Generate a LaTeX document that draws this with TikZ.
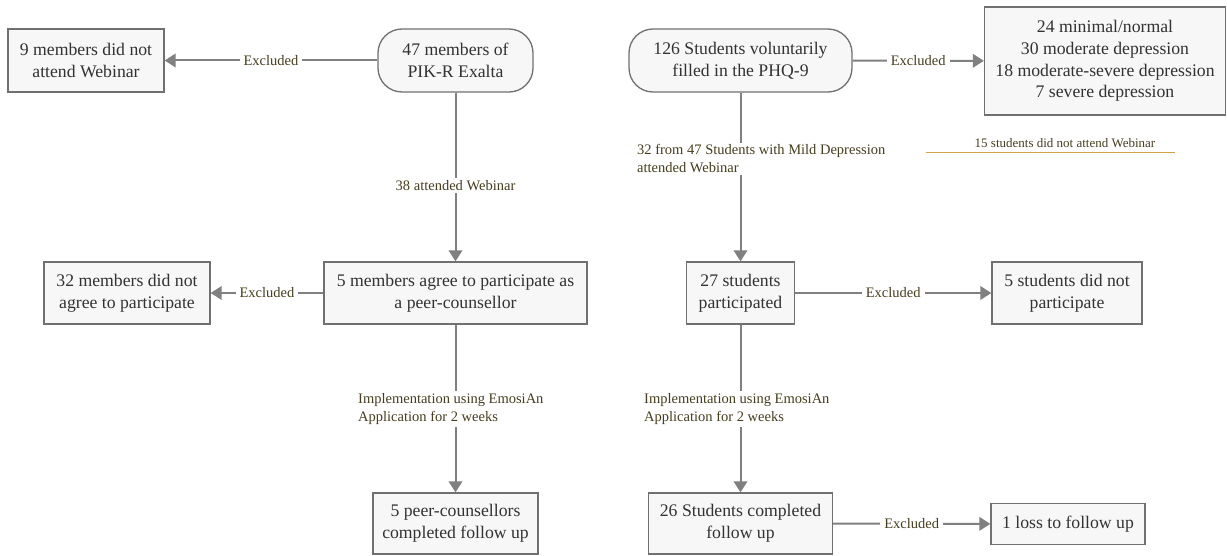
\documentclass[tikz,border=0pt]{standalone}
\usepackage{fontspec}
\setmainfont{Liberation Serif}
\newfontfamily\tnr{Liberation Serif}
\usetikzlibrary{arrows.meta}
\definecolor{boxfill}{RGB}{247,247,247}
\definecolor{boxline}{RGB}{112,112,112}
\definecolor{conn}{RGB}{128,128,128}
\definecolor{boxtext}{RGB}{50,50,50}
\definecolor{lbltext}{RGB}{70,62,30}
\definecolor{gold}{RGB}{205,165,70}
\tikzset{
  box/.style={draw=boxline, line width=1.3pt, fill=boxfill, text=boxtext,
    align=center, inner sep=0pt, font=\tnr\fontsize{17.7}{21.7}\selectfont},
  rbox/.style={box, rounded corners=24pt},
  arr/.style={draw=conn, line width=2pt, -{Triangle[length=11pt,width=13.5pt]}},
  lbl/.style={fill=white, text=lbltext, inner xsep=4pt, inner ysep=2pt,
    font=\tnr\fontsize{14.5}{18}\selectfont},
  lblleft/.style={lbl, align=left},
  note/.style={text=lbltext, inner sep=1pt, font=\tnr\fontsize{13}{16}\selectfont}
}
\begin{document}
\begin{tikzpicture}[x=1pt,y=-1pt]
\useasboundingbox (0,0) rectangle (1227,556);
% left column
\node[box, minimum width=156pt, minimum height=63pt] (A) at (86,60.5) {9 members did not\\attend Webinar};
\node[rbox, minimum width=155pt, minimum height=63pt] (B) at (455.5,60.5) {47 members of\\PIK-R Exalta};
\node[box, minimum width=166pt, minimum height=62pt] (E) at (127,293) {32 members did not\\agree to participate};
\node[box, minimum width=263pt, minimum height=62pt] (F) at (455.5,293) {5 members agree to participate as\\a peer-counsellor};
\node[box, minimum width=165pt, minimum height=61pt] (I) at (455.5,523.5) {5 peer-counsellors\\completed follow up};
% right column
\node[rbox, minimum width=223pt, minimum height=63pt] (C) at (740.5,60.5) {126 Students voluntarily\\filled in the PHQ-9};
\node[box, minimum width=241pt, minimum height=108pt] (D) at (1105,61) {24 minimal/normal\\30 moderate depression\\18 moderate-severe depression\\7 severe depression};
\node[box, minimum width=108pt, minimum height=62pt] (G) at (740.5,293) {27 students\\participated};
\node[box, minimum width=150pt, minimum height=62pt] (H) at (1067,293) {5 students did not\\participate};
\node[box, minimum width=184pt, minimum height=61pt] (J) at (740.5,523.5) {26 Students completed\\follow up};
\node[box, minimum width=154pt, minimum height=41pt] (K) at (1068,524) {1 loss to follow up};
% horizontal connectors
\draw[arr] (B) -- node[lbl] {Excluded} (A);
\draw[arr] (C) -- node[lbl] {Excluded} (D);
\draw[arr] (F) -- node[lbl] {Excluded} (E);
\draw[arr] (G) -- node[lbl] {Excluded} (H);
\draw[arr] (J) -- node[lbl] {Excluded} (K);
% vertical connectors
\draw[arr] (B) -- node[lbl, pos=0.55] {38 attended Webinar} (F);
\draw[arr] (C) -- (G);
\node[lblleft, anchor=west] (L1) at (633,159) {32 from 47 Students with Mild Depression\\attended Webinar};
\draw[arr] (F) -- (I);
\node[lblleft, anchor=west] (L2) at (354,409) {Implementation using EmosiAn\\Application for 2 weeks};
\draw[arr] (G) -- (J);
\node[lblleft, anchor=west] (L3) at (640,409) {Implementation using EmosiAn\\Application for 2 weeks};
% free note
\node[note] (N) at (1065,143) {15 students did not attend Webinar};
\coordinate (g1) at (926,153);
\coordinate (g2) at (1175,153);
\draw[gold, line width=1pt] (g1) -- (g2);
\end{tikzpicture}
\end{document}
